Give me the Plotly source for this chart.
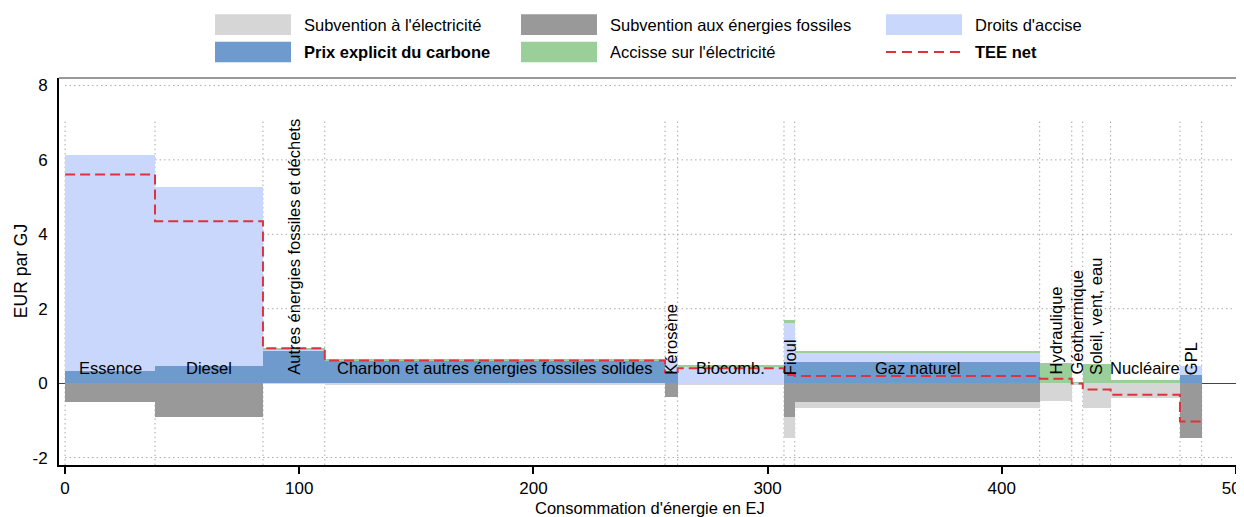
import plotly.graph_objects as go

# ---------------- data ----------------
categories = ["Essence", "Diesel", "Autres énergies fossiles et déchets",
              "Charbon et autres énergies fossiles solides", "Kérosène", "Biocomb.",
              "Fioul", "Gaz naturel", "Hydraulique", "Géothermique",
              "Soleil, vent, eau", "Nucléaire", "GPL"]
vertical_label = [False, False, True, False, True, False, True, False, True, True, True, False, True]
# cumulative energy consumption (EJ) at segment boundaries
bounds = [0, 38.4, 84.5, 110.9, 256.2, 261.6, 307.0, 311.6, 416.2, 429.9, 434.6, 446.5, 476.1, 485.4]
carbon_price = [0.33, 0.47, 0.87, 0.60, 0.30, 0.00, 0.57, 0.56, 0.00, 0.00, 0.00, 0.00, 0.21]
excise = [5.79, 4.79, 0.03, 0.00, 0.37, 0.45, 1.07, 0.24, 0.00, 0.00, 0.00, 0.00, 0.25]
elec_excise = [0.00, 0.00, 0.04, 0.04, 0.00, 0.03, 0.05, 0.06, 0.55, 0.02, 0.51, 0.08, 0.00]
fossil_subsidy = [-0.51, -0.91, 0.00, 0.00, -0.37, 0.00, -0.90, -0.50, 0.00, 0.00, 0.00, 0.00, -1.48]
elec_subsidy = [0.00, 0.00, -0.01, -0.05, 0.00, -0.05, -0.57, -0.16, -0.48, -0.03, -0.68, -0.41, 0.00]
tee_net = [5.61, 4.35, 0.94, 0.61, 0.30, 0.40, 0.22, 0.19, 0.12, -0.01, -0.17, -0.31, -1.03]
x_ticks = [0, 100, 200, 300, 400, 500]
y_ticks = [-2, 0, 2, 4, 6, 8]
y_tick_labels = ["-2", "0", "2", "4", "6", "8"]

# ---------------- styling ----------------
FONT = "Liberation Sans, Arial, sans-serif"
FS_LABEL = 16.5
FS_LEGEND = 16.5
FS_TICK = 17
C_ELEC_SUB = "#d6d6d6"
C_FOSS_SUB = "#999999"
C_EXCISE = "#c9d7fc"
C_CARBON = "#6f9acd"
C_ELEC_EXC = "#9bcf99"
C_TEE = "#e0323c"
C_GRID = "#a8a8a8"
GRID_DASH = "1.5px,3px"

mids = [(bounds[i] + bounds[i + 1]) / 2 for i in range(len(categories))]
widths = [bounds[i + 1] - bounds[i] for i in range(len(categories))]

fig = go.Figure()

def add_bar(name, vals, base, color):
    fig.add_trace(go.Bar(x=mids, y=vals, base=base, width=widths, name=name,
                         marker=dict(color=color, line=dict(width=0)),
                         showlegend=False, hoverinfo="skip"))

base_excise = carbon_price
base_elec_exc = [c + e for c, e in zip(carbon_price, excise)]
add_bar("Prix explicit du carbone", carbon_price, [0] * len(categories), C_CARBON)
add_bar("Droits d'accise", excise, base_excise, C_EXCISE)
add_bar("Accisse sur l'électricité", elec_excise, base_elec_exc, C_ELEC_EXC)
add_bar("Subvention aux énergies fossiles", fossil_subsidy, [0] * len(categories), C_FOSS_SUB)
add_bar("Subvention à l'électricité", elec_subsidy, fossil_subsidy, C_ELEC_SUB)

fig.add_trace(go.Scatter(x=bounds, y=tee_net + [tee_net[-1]], mode="lines",
                         line=dict(color=C_TEE, width=2, dash="10px,5px", shape="hv"),
                         name="TEE net", showlegend=False, hoverinfo="skip"))

shapes = []
# vertical dotted separators
for b in bounds:
    shapes.append(dict(type="line", xref="x", yref="y", x0=b, x1=b, y0=-2.2, y1=7.05,
                       line=dict(color=C_GRID, width=1, dash=GRID_DASH), layer="below"))
# horizontal dotted gridlines
for yv in y_ticks:
    if yv != 0:
        shapes.append(dict(type="line", xref="x", yref="y", x0=0, x1=499, y0=yv, y1=yv,
                           line=dict(color=C_GRID, width=1, dash=GRID_DASH), layer="below"))

# plot area in window pixels; the page body adds an 8px offset
OFF = 8
W, H = 1244, 517
L, R, T, B = 59, 1242, 77.7, 465
def px(p):
    return (p - L) / (R - L)
def py(p):
    return (B - p) / (B - T)

# top frame line
shapes.append(dict(type="line", xref="paper", yref="paper", x0=0, x1=1, y0=1, y1=1,
                   line=dict(color="#777777", width=1.5)))

annotations = []
# category labels
for name, m, vert in zip(categories, mids, vertical_label):
    if vert:
        annotations.append(dict(x=m, y=0.17, xref="x", yref="y", text=name, showarrow=False,
                                textangle=-90, xanchor="center", yanchor="bottom",
                                font=dict(family=FONT, size=FS_LABEL, color="black")))
    else:
        annotations.append(dict(x=m, y=0.4, xref="x", yref="y", text=name, showarrow=False,
                                xanchor="center", yanchor="middle",
                                font=dict(family=FONT, size=FS_LABEL, color="black")))

# axis titles
annotations.append(dict(x=px(650), y=py(508), xref="paper", yref="paper",
                        text="Consommation d'énergie en EJ", showarrow=False,
                        xanchor="center", yanchor="middle",
                        font=dict(family=FONT, size=16.5, color="black")))
annotations.append(dict(x=px(21), y=py(271), xref="paper", yref="paper",
                        text="EUR par GJ", showarrow=False, textangle=-90,
                        xanchor="center", yanchor="middle",
                        font=dict(family=FONT, size=17.5, color="black")))

# custom legend
legend_items = [
    ("Subvention à l'électricité", C_ELEC_SUB, False, "box", 215, 302, 24.3),
    ("Subvention aux énergies fossiles", C_FOSS_SUB, False, "box", 521, 608, 24.3),
    ("Droits d'accise", C_EXCISE, False, "box", 886, 973, 24.3),
    ("Prix explicit du carbone", C_CARBON, True, "box", 215, 302, 51.7),
    ("Accisse sur l'électricité", C_ELEC_EXC, False, "box", 521, 608, 51.7),
    ("TEE net", C_TEE, True, "line", 886, 973, 51.7),
]
for text, color, bold, kind, sx, tx, cy in legend_items:
    if kind == "box":
        shapes.append(dict(type="rect", xref="paper", yref="paper",
                           x0=px(sx), x1=px(sx + 76), y0=py(cy + 10.3), y1=py(cy - 10.3),
                           fillcolor=color, line=dict(width=0)))
    else:
        shapes.append(dict(type="line", xref="paper", yref="paper",
                           x0=px(sx), x1=px(sx + 76), y0=py(cy), y1=py(cy),
                           line=dict(color=color, width=2, dash="10px,6px")))
    annotations.append(dict(x=px(tx), y=py(cy), xref="paper", yref="paper",
                            text=f"<b>{text}</b>" if bold else text, showarrow=False,
                            xanchor="left", yanchor="middle",
                            font=dict(family=FONT, size=FS_LEGEND, color="black")))

fig.update_layout(
    width=W, height=H, template="none",
    paper_bgcolor="white", plot_bgcolor="white",
    margin=dict(l=L - OFF, r=W - (R - OFF), t=T - OFF, b=H - (B - OFF), pad=0),
    barmode="overlay", bargap=0,
    showlegend=False,
    shapes=shapes, annotations=annotations,
    font=dict(family=FONT, size=FS_TICK, color="black"),
    xaxis=dict(range=[-2.6, 502.6], tickvals=x_ticks, ticks="outside", ticklen=7,
               tickcolor="black", tickwidth=1.5, showgrid=False, zeroline=False,
               showline=True, linecolor="black", linewidth=2, mirror=False,
               automargin=False, tickfont=dict(family=FONT, size=FS_TICK)),
    yaxis=dict(range=[-2.2, 8.2], tickvals=y_ticks, ticktext=y_tick_labels, ticks="",
               showgrid=False, zeroline=True, zerolinecolor="#444444", zerolinewidth=1,
               showline=True, linecolor="black", linewidth=2, mirror=True,
               automargin=False, ticklabelstandoff=6,
               tickfont=dict(family=FONT, size=FS_TICK)),
)

fig.write_html("out.html")
